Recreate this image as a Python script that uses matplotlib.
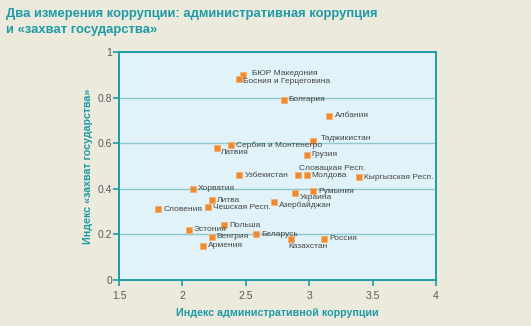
import matplotlib
matplotlib.use("Agg")
import matplotlib.pyplot as plt

# data
countries = [
    "БЮР Македония", "Босния и Герцеговина", "Болгария", "Албания",
    "Таджикистан", "Сербия и Монтенегро", "Латвия", "Грузия",
    "Узбекистан", "Словацкая Респ.", "Молдова", "Кыргызская Респ.",
    "Хорватия", "Румыния", "Украина", "Литва", "Азербайджан",
    "Чешская Респ.", "Словения", "Польша", "Эстония", "Венгрия",
    "Беларусь", "Казахстан", "Россия", "Армения",
]
admin_index = [
    2.48, 2.45, 2.80, 3.16,
    3.03, 2.38, 2.27, 2.98,
    2.45, 2.91, 2.98, 3.39,
    2.08, 3.03, 2.89, 2.23, 2.72,
    2.20, 1.81, 2.33, 2.05, 2.23,
    2.58, 2.86, 3.12, 2.16,
]
capture_index = [
    0.90, 0.88, 0.79, 0.72,
    0.61, 0.59, 0.58, 0.55,
    0.46, 0.46, 0.46, 0.45,
    0.40, 0.39, 0.38, 0.35, 0.34,
    0.32, 0.31, 0.24, 0.22, 0.19,
    0.20, 0.18, 0.18, 0.15,
]
x_ticks = [1.5, 2, 2.5, 3, 3.5, 4]
y_ticks = [0, 0.2, 0.4, 0.6, 0.8, 1]

# label offsets from the marker, in pixels
LABEL_OFFSETS = {
    "БЮР Македония": (9, 1),
    "Босния и Герцеговина": (4, -2),
    "Таджикистан": (8, 2),
    "Латвия": (4, -5),
    "Словацкая Респ.": (1, 7),
    "Украина": (5, -4),
    "Азербайджан": (5, -3),
    "Казахстан": (-3, -8),
}
DEFAULT_OFFSET = (5, 0)

TEAL = "#1e9ba6"
BG = "#ece9dd"
AX_BG = "#e1f3f9"
ORANGE = "#f18a2e"

plt.rcParams["font.family"] = ["Liberation Sans", "DejaVu Sans"]

fig = plt.figure(figsize=(5.31, 3.26), dpi=100, facecolor=BG)
ax = fig.add_axes([119 / 531, 1 - 280 / 326, 317 / 531, 228 / 326])
ax.set_facecolor(AX_BG)

ax.scatter(admin_index, capture_index, marker="s", s=24, color=ORANGE,
           edgecolor="#f6b070", linewidth=0.6, zorder=3)

for name, x, y in zip(countries, admin_index, capture_index):
    dx, dy = LABEL_OFFSETS.get(name, DEFAULT_OFFSET)
    ax.annotate(name, (x, y), xytext=(dx, dy), textcoords="offset pixels",
                ha="left", va="center", fontsize=6.0, color="#444444",
                zorder=4)

ax.set_xlim(1.5, 4)
ax.set_ylim(0, 1)
ax.set_xticks(x_ticks)
ax.set_xticklabels([f"{t:g}" for t in x_ticks])
ax.set_yticks(y_ticks)
ax.set_yticklabels([f"{t:g}" for t in y_ticks])
for gy in y_ticks[1:-1]:
    ax.axhline(gy, color="#8fc9cf", linewidth=1.0, zorder=1)

for sp in ax.spines.values():
    sp.set_color(TEAL)
    sp.set_linewidth(1.4)
ax.tick_params(colors=TEAL, labelcolor="#5a5a5a", labelsize=7.5,
               length=4, width=1.2)
ax.tick_params(axis="x", pad=4)
ax.tick_params(axis="y", pad=1)

ax.set_xlabel("Индекс административной коррупции", color=TEAL,
              fontweight="bold", fontsize=7.7, labelpad=5)
ax.set_ylabel("Индекс «захват государства»", color=TEAL,
              fontweight="bold", fontsize=7.7, labelpad=3)

fig.text(6 / 531, 1 - 14 / 326,
         "Два измерения коррупции: административная коррупция",
         color=TEAL, fontsize=9.4, fontweight="bold", va="center")
fig.text(6 / 531, 1 - 30 / 326, "и «захват государства»",
         color=TEAL, fontsize=9.4, fontweight="bold", va="center")

fig.savefig("out.png", dpi=100, facecolor=BG)
